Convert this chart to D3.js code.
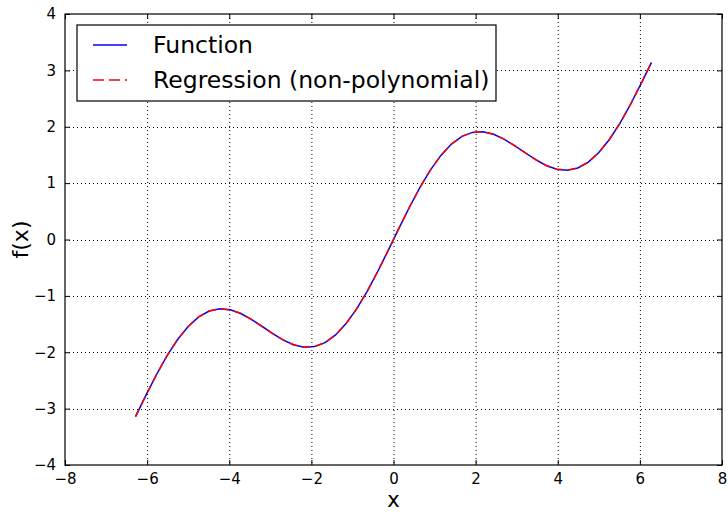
<!DOCTYPE html>
<html>
<head>
<meta charset="utf-8">
<script src="https://cdn.jsdelivr.net/npm/d3@7"></script>
<style>
  body { margin: 0; background: #fff; }
  svg text { font-family: "DejaVu Sans", sans-serif; fill: #000; }
</style>
</head>
<body>
<div id="chart"></div>
<script>
// sample points (x) and values
var xs = [-6.2832, -6.0267, -5.7703, -5.5138, -5.2574, -5.0009, -4.7444, -4.4880, -4.2315, -3.9751,
          -3.7186, -3.4621, -3.2057, -2.9492, -2.6928, -2.4363, -2.1798, -1.9234, -1.6669, -1.4105,
          -1.1540, -0.8976, -0.6411, -0.3847, -0.1282, 0.1282, 0.3847, 0.6411, 0.8976, 1.1540,
          1.4105, 1.6669, 1.9234, 2.1798, 2.4363, 2.6928, 2.9492, 3.2057, 3.4621, 3.7186,
          3.9751, 4.2315, 4.4880, 4.7444, 5.0009, 5.2574, 5.5138, 5.7703, 6.0267, 6.2832];
var functionValues = [-3.1416, -2.7597, -2.3945, -2.0612, -1.7736, -1.5418, -1.3727, -1.2691, -1.2292, -1.2472,
                      -1.3123, -1.4160, -1.5388, -1.6658, -1.7797, -1.8655, -1.9101, -1.8998, -1.8289, -1.6925,
                      -1.4914, -1.2306, -0.9187, -0.5676, -0.1920, 0.1920, 0.5676, 0.9187, 1.2306, 1.4914,
                      1.6925, 1.8289, 1.8998, 1.9101, 1.8655, 1.7797, 1.6658, 1.5388, 1.4160, 1.3123,
                      1.2472, 1.2292, 1.2691, 1.3727, 1.5418, 1.7736, 2.0612, 2.3945, 2.7597, 3.1416];
var regressionValues = [-3.141, -2.760, -2.394, -2.061, -1.774, -1.542, -1.373, -1.269, -1.229, -1.247,
                        -1.312, -1.416, -1.539, -1.666, -1.780, -1.866, -1.910, -1.900, -1.829, -1.693,
                        -1.491, -1.231, -0.919, -0.568, -0.192, 0.192, 0.568, 0.919, 1.231, 1.491,
                        1.693, 1.829, 1.900, 1.910, 1.866, 1.780, 1.666, 1.539, 1.416, 1.312,
                        1.247, 1.229, 1.269, 1.373, 1.542, 1.774, 2.061, 2.394, 2.760, 3.141];
var xTicks = [-8, -6, -4, -2, 0, 2, 4, 6, 8];
var yTicks = [-4, -3, -2, -1, 0, 1, 2, 3, 4];
var legendLabels = ['Function', 'Regression (non-polynomial)'];

var width = 728, height = 512;
var margin = { left: 65, right: 6, top: 14, bottom: 47 };

var svg = d3.select('#chart')
    .append('svg')
    .attr('width', width)
    .attr('height', height);

var x = d3.scaleLinear().domain([-8, 8]).range([margin.left, width - margin.right]);
var y = d3.scaleLinear().domain([-4, 4]).range([height - margin.bottom, margin.top]);

var fmt = d3.format('d');

// grid
svg.append('g')
    .selectAll('line')
    .data(xTicks.slice(1, -1))
    .join('line')
    .attr('x1', d => x(d) + 0.5).attr('x2', d => x(d) + 0.5)
    .attr('y1', y(4)).attr('y2', y(-4))
    .attr('stroke', '#000').attr('stroke-width', 1)
    .attr('stroke-dasharray', '1,3');

svg.append('g')
    .selectAll('line')
    .data(yTicks.slice(1, -1))
    .join('line')
    .attr('x1', x(-8)).attr('x2', x(8))
    .attr('y1', d => Math.round(y(d)) + 0.5).attr('y2', d => Math.round(y(d)) + 0.5)
    .attr('stroke', '#000').attr('stroke-width', 1)
    .attr('stroke-dasharray', '1,3');

// axes, ticks inside on all sides
var axisB = svg.append('g')
    .attr('transform', `translate(0,${y(-4)})`)
    .call(d3.axisBottom(x).tickValues(xTicks).tickFormat(fmt).tickSizeInner(-5).tickSizeOuter(0).tickPadding(8));
var axisT = svg.append('g')
    .attr('transform', `translate(0,${y(4)})`)
    .call(d3.axisTop(x).tickValues(xTicks).tickFormat('').tickSizeInner(-5).tickSizeOuter(0));
var axisL = svg.append('g')
    .attr('transform', `translate(${x(-8)},0)`)
    .call(d3.axisLeft(y).tickValues(yTicks).tickFormat(fmt).tickSizeInner(-5).tickSizeOuter(0).tickPadding(9));
var axisR = svg.append('g')
    .attr('transform', `translate(${x(8)},0)`)
    .call(d3.axisRight(y).tickValues(yTicks).tickFormat('').tickSizeInner(-5).tickSizeOuter(0));

[axisB, axisT, axisL, axisR].forEach(g => {
    g.select('.domain').remove();
    g.selectAll('line').attr('stroke', '#000');
    g.selectAll('text').style('font-size', '15px').attr('fill', '#000');
});

// curves
var line = vals => d3.line()
    .x((d, i) => x(xs[i]))
    .y(d => y(d))(vals);

svg.append('path')
    .attr('d', line(functionValues))
    .attr('fill', 'none')
    .attr('stroke', '#0000ff')
    .attr('stroke-width', 1.5);

svg.append('path')
    .attr('d', line(regressionValues))
    .attr('fill', 'none')
    .attr('stroke', '#ff0000')
    .attr('stroke-width', 1.5)
    .attr('stroke-dasharray', '8,5');

// frame
svg.append('rect')
    .attr('x', x(-8)).attr('y', y(4))
    .attr('width', x(8) - x(-8)).attr('height', y(-4) - y(4))
    .attr('fill', 'none').attr('stroke', '#000').attr('stroke-width', 1.2);

// axis labels
svg.append('text')
    .attr('x', (x(-8) + x(8)) / 2).attr('y', 507)
    .attr('text-anchor', 'middle')
    .style('font-size', '21px')
    .text('x');

svg.append('text')
    .attr('transform', `translate(28,${(y(4) + y(-4)) / 2}) rotate(-90)`)
    .attr('text-anchor', 'middle')
    .style('font-size', '22px')
    .text('f(x)');

// legend
var legend = svg.append('g');
legend.append('rect')
    .attr('x', 77).attr('y', 25)
    .attr('width', 419).attr('height', 76)
    .attr('fill', '#fff').attr('stroke', '#000').attr('stroke-width', 1.2);

var styles = [
    { color: '#0000ff', dash: null },
    { color: '#ff0000', dash: '11,5' }
];
legendLabels.forEach((label, i) => {
    var ly = 45 + i * 35;
    legend.append('line')
        .attr('x1', 93).attr('x2', 127)
        .attr('y1', ly).attr('y2', ly)
        .attr('stroke', styles[i].color)
        .attr('stroke-width', 1.5)
        .attr('stroke-dasharray', styles[i].dash);
    legend.append('text')
        .attr('x', 153).attr('y', ly)
        .attr('dy', '0.36em')
        .style('font-size', '23.5px')
        .text(label);
});
</script>
</body>
</html>
